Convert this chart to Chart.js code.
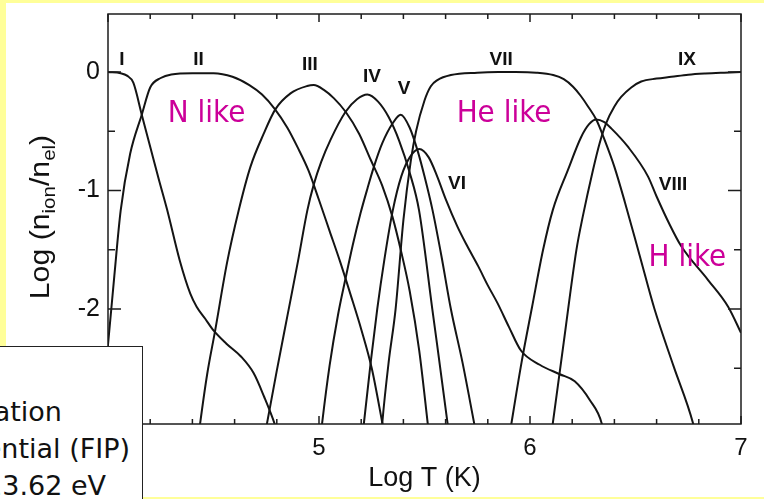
<!DOCTYPE html>
<html lang="en">
  <head>
    <meta charset="UTF-8" />
    <title>Oxygen ionization balance</title>
    <script src="https://cdn.jsdelivr.net/npm/chart.js@4"></script>
    <style>
      html,
      body {
        margin: 0;
        padding: 0;
      }
      body {
        position: relative;
        width: 764px;
        height: 499px;
        overflow: hidden;
        background: #ffff99;
        font-family: "DejaVu Sans", sans-serif;
      }
      #sheet {
        position: absolute;
        left: 6px;
        top: 3px;
        right: 0;
        bottom: 2px;
        background: #fff;
      }
      #ionChart {
        position: absolute;
        left: 0;
        top: 0;
      }
      #fip {
        position: absolute;
        left: -2px;
        top: 346px;
        width: 143px;
        height: 160px;
        background: #fff;
        border: 1px solid #222;
        overflow: hidden;
        font-size: 27px;
        color: #111;
      }
      #fip span {
        position: absolute;
        white-space: nowrap;
        line-height: 1;
      }
    </style>
  </head>
  <body>
    <div id="sheet"></div>
    <canvas id="ionChart" width="764" height="499"></canvas>
    <div id="fip">
      <span style="right: 80px; top: 51px">Ionization</span>
      <span style="right: 12px; top: 88px">Potential (FIP)</span>
      <span style="right: 36px; top: 125px">13.62 eV</span>
    </div>

    <script>
      // log T (K) and log(n_ion / n_el) for each oxygen ion stage
      const tI = [4.0, 4.06, 4.09, 4.12, 4.16, 4.2, 4.24, 4.28, 4.34, 4.39, 4.42, 4.46, 4.5, 4.56, 4.63, 4.69, 4.74, 4.79, 4.82];
      const fI = [0.0, -0.01, -0.03, -0.09, -0.36, -0.63, -0.9, -1.16, -1.59, -1.87, -1.98, -2.08, -2.18, -2.29, -2.4, -2.54, -2.74, -2.97, -3.15];

      const tII = [3.98, 4.0, 4.03, 4.06, 4.105, 4.16, 4.2, 4.25, 4.3, 4.4, 4.5, 4.59, 4.67, 4.73, 4.79, 4.85, 4.9, 4.95, 5.0, 5.05, 5.1, 5.15, 5.2, 5.25, 5.3, 5.32];
      const fII = [-2.65, -2.3, -1.72, -1.17, -0.69, -0.36, -0.13, -0.05, -0.02, -0.01, -0.01, -0.04, -0.11, -0.19, -0.31, -0.47, -0.64, -0.83, -1.08, -1.34, -1.6, -1.88, -2.17, -2.5, -2.96, -3.15];

      const tIII = [4.42, 4.437, 4.47, 4.508, 4.564, 4.619, 4.675, 4.738, 4.793, 4.865, 4.944, 4.975, 5.023, 5.07, 5.126, 5.19, 5.245, 5.3, 5.348, 5.39, 5.43, 5.475, 5.515, 5.53];
      const fIII = [-3.2, -2.96, -2.55, -2.18, -1.61, -1.17, -0.8, -0.52, -0.315, -0.18, -0.118, -0.11, -0.15, -0.22, -0.335, -0.52, -0.74, -0.96, -1.22, -1.52, -1.85, -2.35, -2.96, -3.2];

      const tIV = [4.74, 4.754, 4.8, 4.85, 4.9, 4.945, 4.975, 5.01, 5.055, 5.126, 5.18, 5.229, 5.28, 5.33, 5.38, 5.43, 5.474, 5.537, 5.609, 5.625];
      const fIV = [-3.1, -2.96, -2.52, -2.06, -1.6, -1.165, -0.95, -0.76, -0.57, -0.335, -0.23, -0.19, -0.25, -0.38, -0.58, -0.85, -1.165, -2.0, -2.96, -3.2];

      const tV = [5.0, 5.015, 5.05, 5.09, 5.126, 5.16, 5.197, 5.23, 5.26, 5.3, 5.35, 5.387, 5.43, 5.47, 5.5, 5.538, 5.58, 5.625, 5.68, 5.735, 5.75];
      const fV = [-3.2, -2.96, -2.48, -2.05, -1.74, -1.46, -1.19, -0.98, -0.8, -0.6, -0.43, -0.36, -0.47, -0.68, -0.88, -1.165, -1.55, -2.0, -2.45, -2.96, -3.1];

      const tVI = [5.2, 5.213, 5.245, 5.276, 5.31, 5.35, 5.39, 5.43, 5.475, 5.52, 5.56, 5.6, 5.655, 5.7, 5.755, 5.8, 5.846, 5.9, 5.957, 6.046, 6.141, 6.212, 6.284, 6.34, 6.36];
      const fVI = [-3.2, -2.96, -2.45, -2.0, -1.58, -1.165, -0.88, -0.72, -0.65, -0.72, -0.88, -1.07, -1.3, -1.46, -1.64, -1.8, -1.95, -2.15, -2.35, -2.47, -2.55, -2.61, -2.77, -2.965, -3.15];

      const tVII = [5.29, 5.3, 5.33, 5.363, 5.4, 5.435, 5.46, 5.5, 5.53, 5.561, 5.625, 5.75, 5.85, 5.93, 6.03, 6.11, 6.16, 6.204, 6.24, 6.275, 6.315, 6.353, 6.4, 6.45, 6.52, 6.59, 6.68, 6.773, 6.79];
      const fVII = [-3.2, -2.96, -2.45, -2.0, -1.25, -0.75, -0.5, -0.24, -0.12, -0.068, -0.025, -0.005, 0.0, 0.0, -0.005, -0.025, -0.06, -0.124, -0.2, -0.29, -0.405, -0.57, -0.8, -1.1, -1.55, -2.0, -2.48, -2.965, -3.1];

      const tVIII = [5.9, 5.912, 5.96, 6.01, 6.062, 6.108, 6.179, 6.242, 6.28, 6.314, 6.35, 6.385, 6.464, 6.559, 6.6, 6.66, 6.717, 6.844, 6.939, 7.0];
      const fVIII = [-3.1, -2.965, -2.45, -1.98, -1.5, -1.165, -0.83, -0.55, -0.44, -0.4, -0.42, -0.475, -0.63, -0.88, -1.05, -1.28, -1.47, -1.755, -1.98, -2.2];

      const tIX = [6.09, 6.108, 6.16, 6.22, 6.25, 6.298, 6.33, 6.361, 6.4, 6.432, 6.48, 6.527, 6.6, 6.67, 6.75, 6.83, 6.92, 7.0];
      const fIX = [-3.2, -2.965, -2.28, -1.5, -1.22, -0.83, -0.6, -0.43, -0.29, -0.21, -0.13, -0.08, -0.055, -0.04, -0.022, -0.012, -0.005, 0.0];

      const stageNames = ["I", "II", "III", "IV", "V", "VI", "VII", "VIII", "IX"];
      const stageT = [tI, tII, tIII, tIV, tV, tVI, tVII, tVIII, tIX];
      const stageF = [fI, fII, fIII, fIV, fV, fVI, fVII, fVIII, fIX];

      const xTickLabels = [4, 5, 6, 7];
      const yTickLabels = [-2, -1, 0];

      // where the stage numerals and sequence names sit, in (log T, log frac)
      const stageTags = [
        { text: "I", t: 4.066, f: 0.1 },
        { text: "II", t: 4.429, f: 0.1 },
        { text: "III", t: 4.957, f: 0.06 },
        { text: "IV", t: 5.251, f: -0.04 },
        { text: "V", t: 5.403, f: -0.14 },
        { text: "VI", t: 5.654, f: -0.94 },
        { text: "VII", t: 5.863, f: 0.1 },
        { text: "VIII", t: 6.678, f: -0.95 },
        { text: "IX", t: 6.744, f: 0.1 },
      ];
      const seqTags = [
        { text: "N like", t: 4.467, f: -0.35 },
        { text: "He like", t: 5.877, f: -0.35 },
        { text: "H like", t: 6.746, f: -1.57 },
      ];

      const axisFont = "'Liberation Sans', Arial, sans-serif";

      // box frame plus inward ticks on all four sides
      const frameTicks = {
        id: "frameTicks",
        afterDatasetsDraw(chart) {
          const { ctx, chartArea: a, scales } = chart;
          const x = scales.x;
          const y = scales.y;
          ctx.save();
          ctx.strokeStyle = "#1c1c1c";
          ctx.lineWidth = 1.5;
          ctx.strokeRect(a.left, a.top, a.right - a.left, a.bottom - a.top);
          ctx.beginPath();
          for (let i = 0; i <= 15; i++) {
            const px = x.getPixelForValue(4 + i * 0.2);
            const len = i % 5 === 0 ? 8 : 5;
            ctx.moveTo(px, a.bottom);
            ctx.lineTo(px, a.bottom - len);
            ctx.moveTo(px, a.top);
            ctx.lineTo(px, a.top + len);
          }
          for (let i = -5; i <= 0; i++) {
            const py = y.getPixelForValue(i * 0.5);
            const len = i % 2 === 0 ? 13 : 7;
            ctx.moveTo(a.left, py);
            ctx.lineTo(a.left + len, py);
            ctx.moveTo(a.right, py);
            ctx.lineTo(a.right - len, py);
          }
          ctx.stroke();
          ctx.restore();
        },
      };

      const curveTags = {
        id: "curveTags",
        afterDatasetsDraw(chart) {
          const { ctx, scales } = chart;
          ctx.save();
          ctx.textAlign = "center";
          ctx.textBaseline = "middle";
          ctx.fillStyle = "#111";
          ctx.font = "bold 19px " + axisFont;
          stageTags.forEach((tag) => {
            ctx.fillText(tag.text, scales.x.getPixelForValue(tag.t), scales.y.getPixelForValue(tag.f));
          });
          ctx.fillStyle = "#cc0099";
          ctx.font = "31px 'DejaVu Sans', sans-serif";
          seqTags.forEach((tag) => {
            ctx.save();
            ctx.translate(scales.x.getPixelForValue(tag.t), scales.y.getPixelForValue(tag.f));
            ctx.scale(0.9, 1);
            ctx.fillText(tag.text, 0, 0);
            ctx.restore();
          });
          ctx.restore();
        },
      };

      // rotated y title with subscripts
      const yTitle = {
        id: "yTitle",
        afterDraw(chart) {
          const { ctx, chartArea: a } = chart;
          const parts = [
            ["Log (n", 28, 0],
            ["ion", 19, 6],
            ["/n", 28, 0],
            ["el", 19, 6],
            [")", 28, 0],
          ];
          ctx.save();
          ctx.fillStyle = "#111";
          ctx.textBaseline = "alphabetic";
          ctx.textAlign = "left";
          let total = 0;
          parts.forEach((p) => {
            ctx.font = p[1] + "px " + axisFont;
            total += ctx.measureText(p[0]).width;
          });
          ctx.translate(0, (a.top + a.bottom) / 2 - 2);
          ctx.rotate(-Math.PI / 2);
          ctx.scale(1.08, 1);
          let pos = -total / 2;
          parts.forEach((p) => {
            ctx.font = p[1] + "px " + axisFont;
            ctx.fillText(p[0], pos, 49 + p[2]);
            pos += ctx.measureText(p[0]).width;
          });
          ctx.restore();
        },
      };

      new Chart(document.getElementById("ionChart"), {
        type: "line",
        data: {
          datasets: stageNames.map((name, k) => ({
            label: name,
            data: stageT[k].map((t, i) => ({ x: t, y: stageF[k][i] })),
          })),
        },
        options: {
          responsive: false,
          animation: false,
          layout: { padding: { left: 0, top: 14, right: 23, bottom: 0 } },
          plugins: {
            legend: { display: false },
            tooltip: { enabled: false },
          },
          elements: {
            point: { radius: 0 },
            line: {
              borderWidth: 2,
              borderColor: "#141414",
              cubicInterpolationMode: "monotone",
            },
          },
          scales: {
            x: {
              type: "linear",
              min: 4,
              max: 7,
              grid: { drawOnChartArea: false, drawTicks: false },
              border: { display: false },
              ticks: {
                stepSize: 1,
                padding: 10,
                maxRotation: 0,
                color: "#111",
                font: { family: axisFont, size: 24 },
                callback: (v) => (xTickLabels.includes(v) ? String(v) : ""),
              },
              title: {
                display: true,
                text: "Log T (K)",
                color: "#111",
                font: { family: axisFont, size: 27 },
                padding: { top: 0, bottom: 4 },
              },
              afterFit: (s) => {
                s.height = 75;
                s.paddingLeft = 0;
                s.paddingRight = 0;
              },
            },
            y: {
              type: "linear",
              min: -2.97,
              max: 0.49,
              grid: { drawOnChartArea: false, drawTicks: false },
              border: { display: false },
              ticks: {
                stepSize: 1,
                padding: 8,
                color: "#111",
                font: { family: axisFont, size: 25 },
                callback: (v) => (yTickLabels.includes(v) ? String(v) : ""),
              },
              afterFit: (s) => {
                s.width = 108;
                s.paddingTop = 0;
                s.paddingBottom = 0;
              },
            },
          },
        },
        plugins: [frameTicks, curveTags, yTitle],
      });
    </script>
  </body>
</html>
